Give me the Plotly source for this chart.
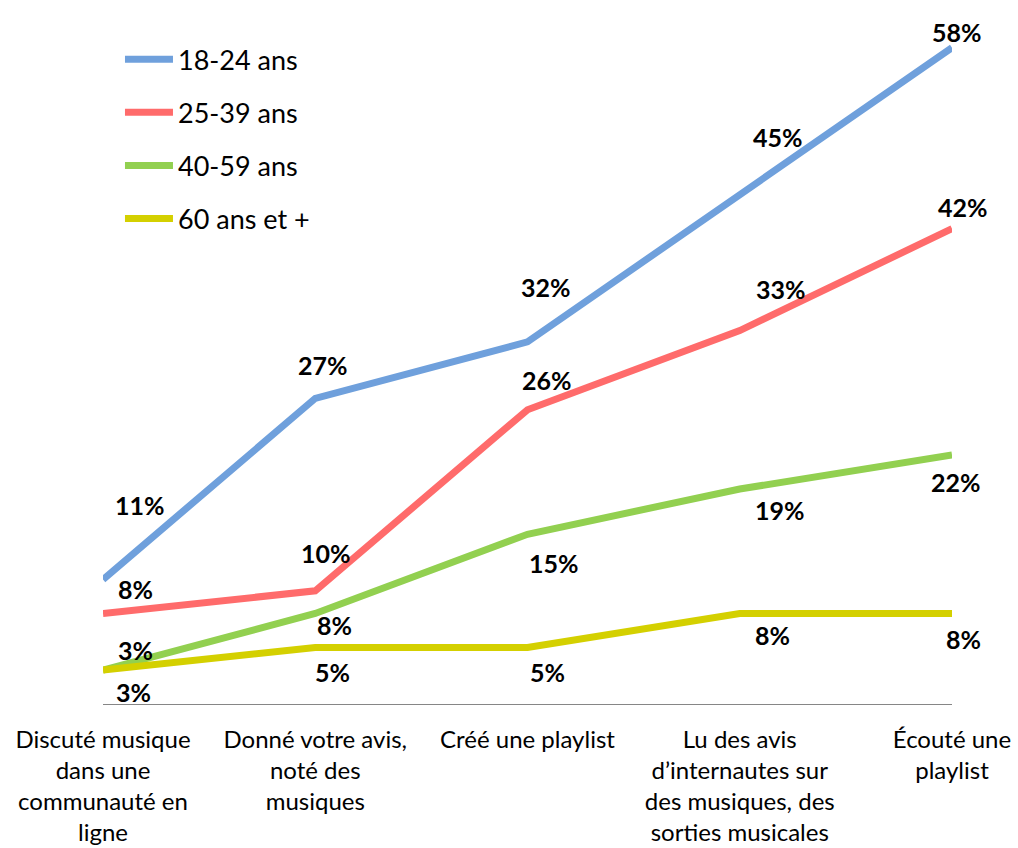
import plotly.graph_objects as go

categories = [
    "Discuté musique<br>dans une<br>communauté en<br>ligne",
    "Donné votre avis,<br>noté des<br>musiques",
    "Créé une playlist",
    "Lu des avis<br>d’internautes sur<br>des musiques, des<br>sorties musicales",
    "Écouté une<br>playlist",
]
series_names = ["18-24 ans", "25-39 ans", "40-59 ans", "60 ans et +"]
v_18_24 = [11, 27, 32, 45, 58]
v_25_39 = [8, 10, 26, 33, 42]
v_40_59 = [3, 8, 15, 19, 22]
v_60p = [3, 5, 5, 8, 8]
series_values = [v_18_24, v_25_39, v_40_59, v_60p]

colors = ["#6FA0DC", "#FF6B6B", "#92D050", "#D4D000"]

# label offsets (pixels) for each series/point
label_dx = [
    [37, 8, 18, 38, 5],
    [32, 11, 19, 41, 11],
    [32, 19, 26, 40, 4],
    [30, 17, 20, 33, 11],
]
label_dy = [
    [75, 33, 55, 58, 16],
    [24, 38, 30, 42, 22],
    [20, -12, -29, -21, -27],
    [-22, -25, -25, -22, -26],
]

FONT = "Lato"
fig = go.Figure()
xs = list(range(len(categories)))
for i, (name, vals) in enumerate(zip(series_names, series_values)):
    fig.add_trace(go.Scatter(
        x=xs, y=vals, mode="lines", name=name,
        line=dict(color=colors[i], width=7),
        legendgroup=name, cliponaxis=False,
    ))
    for j, v in enumerate(vals):
        fig.add_annotation(
            x=xs[j], y=v, text=f"{v}%", showarrow=False,
            xshift=label_dx[i][j], yshift=label_dy[i][j],
            font=dict(family=FONT, size=25, color="#000000", weight="bold"),
        )

fig.update_layout(
    width=1018, height=848,
    margin=dict(l=103, r=66, t=25, b=144),
    paper_bgcolor="white", plot_bgcolor="white",
    font=dict(family=FONT, color="#000000"),
    showlegend=True,
    legend=dict(
        x=0.02, y=0.985, xanchor="left", yanchor="top",
        font=dict(family=FONT, size=27, color="#000000"),
        itemwidth=48, tracegroupgap=15, traceorder="grouped",
        bgcolor="rgba(0,0,0,0)",
    ),
    xaxis=dict(
        tickmode="array", tickvals=xs, ticktext=categories,
        range=[0, 4], showgrid=False, zeroline=False,
        showline=True, linecolor="#868686", linewidth=1,
        ticks="", tickfont=dict(family=FONT, size=24, color="#000000"),
        ticklabelstandoff=14, automargin=False,
    ),
    yaxis=dict(
        range=[0, 60], showgrid=False, zeroline=False, showline=False,
        showticklabels=False, ticks="", automargin=False,
    ),
)

fig.write_html("out.html")
